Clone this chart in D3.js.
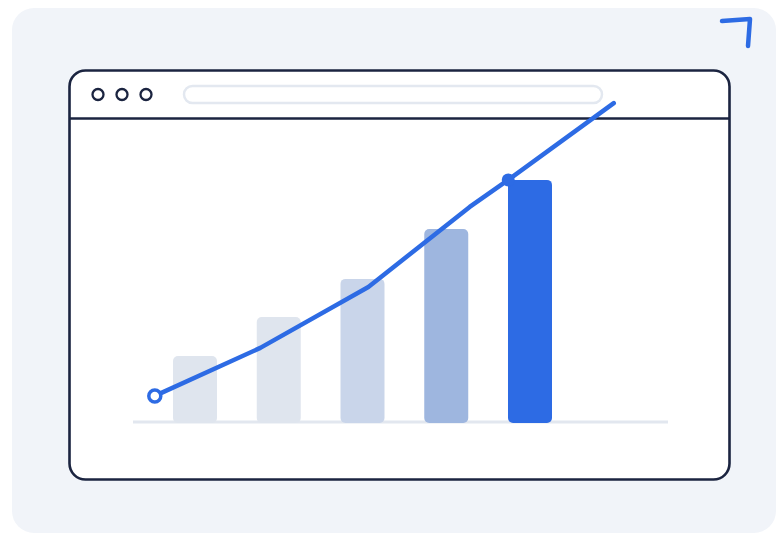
<!DOCTYPE html>
<html>
<head>
<meta charset="utf-8">
<script src="https://cdn.jsdelivr.net/npm/d3@7"></script>
<style>
  html, body { margin: 0; padding: 0; background: #fff; }
  svg { display: block; }
</style>
</head>
<body>
<div id="chart"></div>
<script>
// bar data
const categories = ['A', 'B', 'C', 'D', 'E'];
const barValues = [22, 35, 47.7, 64.3, 80.7];
const barColors = ['#dfe5ee', '#dfe5ee', '#c9d5ea', '#9eb6df', '#2d6be4'];

// trend line (x in category-index units, y in bar units)
const lineX = [-0.48, 0.78, 2.07, 3.28, 3.74, 5.0];
const lineY = [8.7, 24.7, 45, 71.7, 80.7, 106.3];

const width = 776;
const height = 533;
const blue = '#2d6be4';
const ink = '#1b2440';

const svg = d3.select('#chart')
  .append('svg')
  .attr('width', width)
  .attr('height', height);

// backdrop card
svg.append('rect')
  .attr('x', 12).attr('y', 8)
  .attr('width', 776 - 12).attr('height', 533 - 8)
  .attr('rx', 22)
  .style('fill', '#f1f4f9');

// little corner arrow
svg.append('path')
  .attr('d', 'M722,21 L750,19 L748,46')
  .style('fill', 'none')
  .style('stroke', blue)
  .style('stroke-width', 4.5)
  .style('stroke-linecap', 'round')
  .style('stroke-linejoin', 'round');

// browser window
svg.append('rect')
  .attr('x', 69.5).attr('y', 70.5)
  .attr('width', 660).attr('height', 409)
  .attr('rx', 16)
  .style('fill', '#fff')
  .style('stroke', ink)
  .style('stroke-width', 2.6);

svg.append('line')
  .attr('x1', 69.5).attr('x2', 729.5)
  .attr('y1', 118.5).attr('y2', 118.5)
  .style('stroke', ink)
  .style('stroke-width', 2.6);

svg.selectAll('circle.dot')
  .data([98, 122, 146])
  .enter()
  .append('circle')
  .attr('class', 'dot')
  .attr('cx', (d) => d)
  .attr('cy', 94.5)
  .attr('r', 5.5)
  .style('fill', 'none')
  .style('stroke', ink)
  .style('stroke-width', 2.3);

svg.append('rect')
  .attr('x', 184).attr('y', 86)
  .attr('width', 418).attr('height', 17)
  .attr('rx', 8.5)
  .style('fill', '#fff')
  .style('stroke', '#e3e8f0')
  .style('stroke-width', 2.5);

// scales
const x = d3.scaleBand()
  .domain(categories)
  .range([133.25, 591.75])
  .padding(0.4746);

const y = d3.scaleLinear()
  .domain([0, 100])
  .range([422, 122]);

const xl = d3.scaleLinear()
  .domain([0, categories.length - 1])
  .range([x(categories[0]) + x.bandwidth() / 2, x(categories[categories.length - 1]) + x.bandwidth() / 2]);

// baseline
svg.append('line')
  .attr('x1', 133).attr('x2', 668)
  .attr('y1', y(0)).attr('y2', y(0))
  .style('stroke', '#e2e7ef')
  .style('stroke-width', 3);

// bars
svg.selectAll('rect.bar')
  .data(barValues)
  .enter()
  .append('rect')
  .attr('class', 'bar')
  .attr('x', (d, i) => x(categories[i]))
  .attr('y', (d) => y(d))
  .attr('width', x.bandwidth())
  .attr('height', (d) => y(0) - y(d) + 1)
  .attr('rx', 5)
  .attr('ry', 5)
  .style('fill', (d, i) => barColors[i]);

// trend line
const pts = lineX.map((v, i) => [xl(v), y(lineY[i])]);

svg.append('path')
  .datum(pts)
  .attr('d', d3.line())
  .style('fill', 'none')
  .style('stroke', blue)
  .style('stroke-width', 4.5)
  .style('stroke-linecap', 'round')
  .style('stroke-linejoin', 'round');

svg.append('circle')
  .attr('cx', pts[0][0]).attr('cy', pts[0][1])
  .attr('r', 6)
  .style('fill', '#fff')
  .style('stroke', blue)
  .style('stroke-width', 3.5);

svg.append('circle')
  .attr('cx', pts[4][0]).attr('cy', pts[4][1])
  .attr('r', 6.5)
  .style('fill', blue);
</script>
</body>
</html>
